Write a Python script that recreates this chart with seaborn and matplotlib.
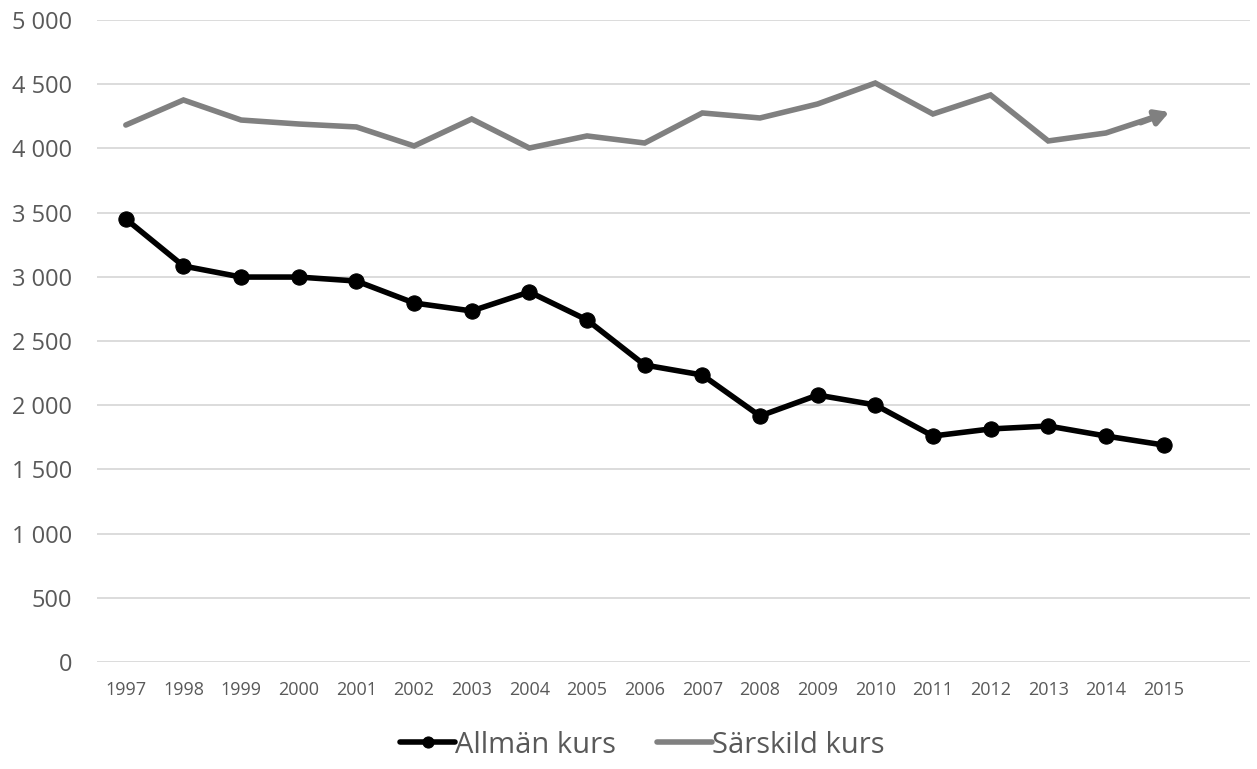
import matplotlib
matplotlib.use('Agg')
import seaborn as sns
import matplotlib.pyplot as plt
import pandas as pd
from matplotlib.ticker import FuncFormatter, MultipleLocator

years = [str(y) for y in range(1997, 2016)]
allman = [3450, 3084, 2998, 2998, 2967, 2796, 2734, 2882, 2664, 2313,
          2235, 1916, 2079, 2002, 1760, 1815, 1838, 1760, 1690]
sarskild = [4182, 4377, 4221, 4190, 4167, 4019, 4229, 4003, 4097, 4042,
            4276, 4237, 4346, 4509, 4268, 4416, 4058, 4120, 4268]

df = pd.DataFrame({'year': years, 'Allmän kurs': allman, 'Särskild kurs': sarskild})
df['pos'] = range(len(df))

sns.set_style('white')
plt.rcParams['font.family'] = ['Open Sans', 'DejaVu Sans']

fig, ax = plt.subplots(figsize=(12.57, 7.69), dpi=100)
fig.subplots_adjust(left=97 / 1257, right=1250 / 1257, bottom=107 / 769, top=749 / 769)

sns.lineplot(data=df, x='pos', y='Särskild kurs', ax=ax, color='#808080', linewidth=4,
             label='Särskild kurs', solid_joinstyle='miter')
sns.lineplot(data=df, x='pos', y='Allmän kurs', ax=ax, color='black', linewidth=4,
             marker='o', markersize=11, markeredgecolor='black', label='Allmän kurs')

# arrow head at the end of the grey line
ax.annotate('', xy=(df['pos'].iloc[-1] + 0.1, sarskild[-1] + 15),
            xytext=(df['pos'].iloc[-2] + 0.6, sarskild[-2] + 80),
            arrowprops=dict(arrowstyle='-|>,head_length=0.8,head_width=0.45',
                            color='#808080', lw=4, shrinkA=0, shrinkB=0))

ax.set_xlim(-0.5, 19.5)
ax.set_ylim(0, 5000)
ax.yaxis.set_major_locator(MultipleLocator(500))
ax.yaxis.set_major_formatter(FuncFormatter(lambda v, p: f'{int(v):,}'.replace(',', ' ')))
ax.set_xticks(df['pos'])
ax.set_xticklabels(years)
ax.grid(axis='y', color='#d9d9d9', linewidth=1.3)
ax.set_axisbelow(True)
ax.tick_params(axis='y', labelsize=17, labelcolor='#595959', length=0, pad=18)
ax.tick_params(axis='x', labelsize=13, labelcolor='#595959', length=0, pad=14)
ax.set_xlabel('')
ax.set_ylabel('')
for s in ax.spines.values():
    s.set_visible(False)

handles, labels = ax.get_legend_handles_labels()
order = [labels.index('Allmän kurs'), labels.index('Särskild kurs')]
ax.get_legend().remove()
leg = fig.legend([handles[i] for i in order], [labels[i] for i in order],
                 loc='center', bbox_to_anchor=(0.511, 0.031), ncol=2, frameon=False,
                 fontsize=21, labelcolor='#595959', handlelength=1.9, handletextpad=0.0,
                 columnspacing=1.4)
leg.legend_handles[0].set_markersize(8)

fig.savefig('out.png', dpi=100)
